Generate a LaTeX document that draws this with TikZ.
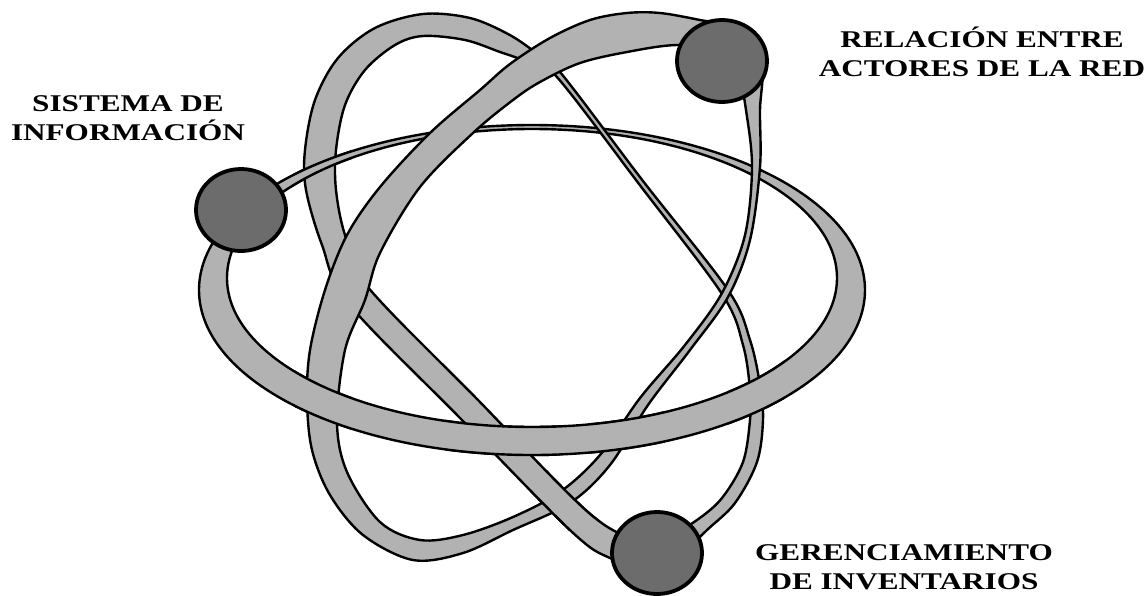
\documentclass[tikz,border=0pt]{standalone}
\usepackage{fontspec}
\newfontfamily\labfont[FakeStretch=1.3]{Liberation Serif}
\definecolor{bandgray}{RGB}{178,178,178}
\definecolor{dotgray}{RGB}{108,108,108}
\tikzset{
  band/.style={fill=bandgray, draw=black, line width=2.4pt, even odd rule, line join=round},
  electron/.style={ellipse, draw=black, line width=3.8pt, fill=dotgray, minimum width=90pt, minimum height=82pt, inner sep=0pt},
  lab/.style={font=\labfont\bfseries\fontsize{24}{29}\selectfont, align=center, text=black, inner sep=0pt}
}
\usetikzlibrary{shapes.geometric}
\def\orbitA{(532,290) ellipse [x radius=333pt, y radius=165pt]
            (532,278) ellipse [x radius=305pt, y radius=149pt]}
\def\orbitC{plot[smooth cycle, tension=0.55] coordinates {
  (349,304) (322,245) (306,190) (305,150) (315,100) (338,58) (375,28) (423,14)
  (470,18) (508,34) (535,52) (560,72) (643,181) (728,290) (750,340) (760,385)
  (763,420) (757,462) (735,503) (707,530) (680,555) (650,568) (610,558) (571,531) (460,418)}
  plot[smooth cycle, tension=0.55] coordinates {
  (367,286) (345,235) (336,190) (336,150) (345,105) (365,70) (395,45) (423,36)
  (465,40) (500,52) (528,62) (556,76) (639,184) (722,294) (743,345) (750,390)
  (750,420) (743,462) (722,498) (697,520) (670,535) (640,540) (589,513) (478,400)}}
\def\orbitB{plot[smooth cycle, tension=0.55] coordinates {
  (745,30) (700,20) (660,13) (627,13) (590,20) (550,38) (510,64) (480,90) (430,133)
  (380,187) (347,235) (325,290) (310,350) (307,400) (312,450) (330,495) (363,535)
  (413,560) (463,553) (513,530) (570,503) (610,465) (648,405) (690,350) (728,297)
  (750,240) (760,167) (760,110) (762,65)}
  plot[smooth cycle, tension=0.55] coordinates {
  (727,50) (677,45) (627,52) (580,63) (540,82) (513,100) (473,133) (420,187)
  (380,253) (365,300) (345,350) (337,422) (347,472) (380,522) (420,540) (463,535)
  (513,517) (560,492) (600,455) (640,398) (685,345) (722,293) (745,235) (752,167)
  (746,110) (738,70)}}
\begin{document}
\begin{tikzpicture}[x=1pt,y=-1pt]
\useasboundingbox (0,0) rectangle (1146,595);
\fill[white] (0,0) rectangle (1146,595);
% base layers
\draw[band] \orbitA;
\draw[band] \orbitC;
\draw[band] \orbitB;
% weaving: A over C
\begin{scope}
  \clip (292,140) rectangle (352,195);
  \draw[band] \orbitA;
\end{scope}
\begin{scope}
  \clip (445,405) rectangle (560,470);
  \draw[band] \orbitA;
\end{scope}
\begin{scope}
  \clip (728,355) rectangle (785,432);
  \draw[band] \orbitA;
\end{scope}
% weaving: A over B
\begin{scope}
  \clip (295,368) rectangle (352,440);
  \draw[band] \orbitA;
\end{scope}
\begin{scope}
  \clip (590,405) rectangle (665,465);
  \draw[band] \orbitA;
\end{scope}
% weaving: C over B
\begin{scope}
  \clip (530,470) rectangle (600,530);
  \draw[band] \orbitC;
\end{scope}
% electrons
\node[electron] (sis) at (241,210) {};
\node[electron] (rel) at (722,61) {};
\node[electron] (ger) at (657,553) {};
% labels
\node[lab] (lsis) at (128,118) {SISTEMA DE\\INFORMACIÓN};
\node[lab] (lrel) at (982,52) {RELACIÓN ENTRE\\ACTORES DE LA RED};
\node[lab] (lger) at (904,567) {GERENCIAMIENTO\\DE INVENTARIOS};
\end{tikzpicture}
\end{document}
